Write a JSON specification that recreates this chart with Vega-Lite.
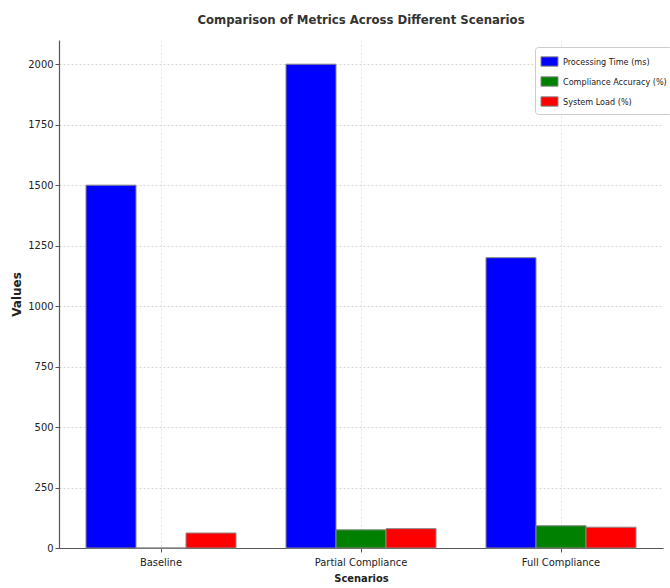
{
  "$schema": "https://vega.github.io/schema/vega-lite/v6.json",
  "width": 604,
  "height": 508,
  "autosize": {"type": "none"},
  "padding": {"left": 59, "top": 40, "right": 7, "bottom": 40},
  "background": "white",
  "title": {
    "text": "Comparison of Metrics Across Different Scenarios",
    "font": "DejaVu Sans Condensed",
    "fontSize": 13,
    "fontWeight": "bold",
    "color": "#333333",
    "anchor": "middle",
    "offset": 13
  },
  "data": {
    "values": [
      {"scenario": "Baseline", "metric": "Processing Time (ms)", "value": 1500},
      {"scenario": "Baseline", "metric": "Compliance Accuracy (%)", "value": 0},
      {"scenario": "Baseline", "metric": "System Load (%)", "value": 62},
      {"scenario": "Partial Compliance", "metric": "Processing Time (ms)", "value": 2000},
      {"scenario": "Partial Compliance", "metric": "Compliance Accuracy (%)", "value": 75},
      {"scenario": "Partial Compliance", "metric": "System Load (%)", "value": 80},
      {"scenario": "Full Compliance", "metric": "Processing Time (ms)", "value": 1200},
      {"scenario": "Full Compliance", "metric": "Compliance Accuracy (%)", "value": 92},
      {"scenario": "Full Compliance", "metric": "System Load (%)", "value": 86}
    ]
  },
  "mark": {"type": "bar", "stroke": "#888888", "strokeWidth": 1},
  "encoding": {
    "x": {
      "field": "scenario",
      "type": "nominal",
      "sort": ["Baseline", "Partial Compliance", "Full Compliance"],
      "scale": {"paddingInner": 0.25, "paddingOuter": 0.135},
      "axis": {
        "title": "Scenarios",
        "titleFont": "DejaVu Sans Condensed",
        "titleFontSize": 11,
        "titleFontWeight": "bold",
        "titleColor": "#222222",
        "titlePadding": 5,
        "labelAngle": 0,
        "labelFont": "DejaVu Sans Condensed",
        "labelFontSize": 11,
        "labelColor": "#222222",
        "labelPadding": 4,
        "bandPosition": 0.5,
        "grid": true,
        "gridColor": "#dddddd",
        "gridDash": [2, 2],
        "gridWidth": 0.8,
        "domainColor": "#555555",
        "domainWidth": 1.2,
        "tickColor": "#555555",
        "tickSize": 4
      }
    },
    "xOffset": {
      "field": "metric",
      "sort": ["Processing Time (ms)", "Compliance Accuracy (%)", "System Load (%)"]
    },
    "y": {
      "field": "value",
      "type": "quantitative",
      "scale": {"domain": [0, 2100], "nice": false},
      "axis": {
        "title": "Values",
        "titleFont": "DejaVu Sans",
        "titleFontSize": 12,
        "titleFontWeight": "bold",
        "titleColor": "#222222",
        "titlePadding": 4,
        "values": [0, 250, 500, 750, 1000, 1250, 1500, 1750, 2000],
        "format": "d",
        "labelFont": "DejaVu Sans Condensed",
        "labelFontSize": 11,
        "labelColor": "#222222",
        "grid": true,
        "gridColor": "#cccccc",
        "gridDash": [2, 2],
        "gridWidth": 0.8,
        "domainColor": "#555555",
        "domainWidth": 1.2,
        "tickColor": "#555555",
        "tickSize": 4
      }
    },
    "color": {
      "field": "metric",
      "type": "nominal",
      "sort": ["Processing Time (ms)", "Compliance Accuracy (%)", "System Load (%)"],
      "scale": {
        "domain": ["Processing Time (ms)", "Compliance Accuracy (%)", "System Load (%)"],
        "range": ["#0000ff", "#008000", "#ff0000"]
      },
      "legend": {
        "title": null,
        "orient": "none",
        "legendX": 476,
        "legendY": 7,
        "padding": 5,
        "strokeColor": "#cccccc",
        "fillColor": "white",
        "cornerRadius": 3,
        "symbolType": "M-1,-0.55H1V0.55H-1Z",
        "symbolSize": 290,
        "symbolStrokeColor": "#888888",
        "symbolStrokeWidth": 1,
        "labelFont": "DejaVu Sans Condensed",
        "labelFontSize": 9,
        "labelColor": "#222222",
        "labelOffset": 4,
        "rowPadding": 3
      }
    }
  },
  "config": {
    "view": {"stroke": null}
  }
}
